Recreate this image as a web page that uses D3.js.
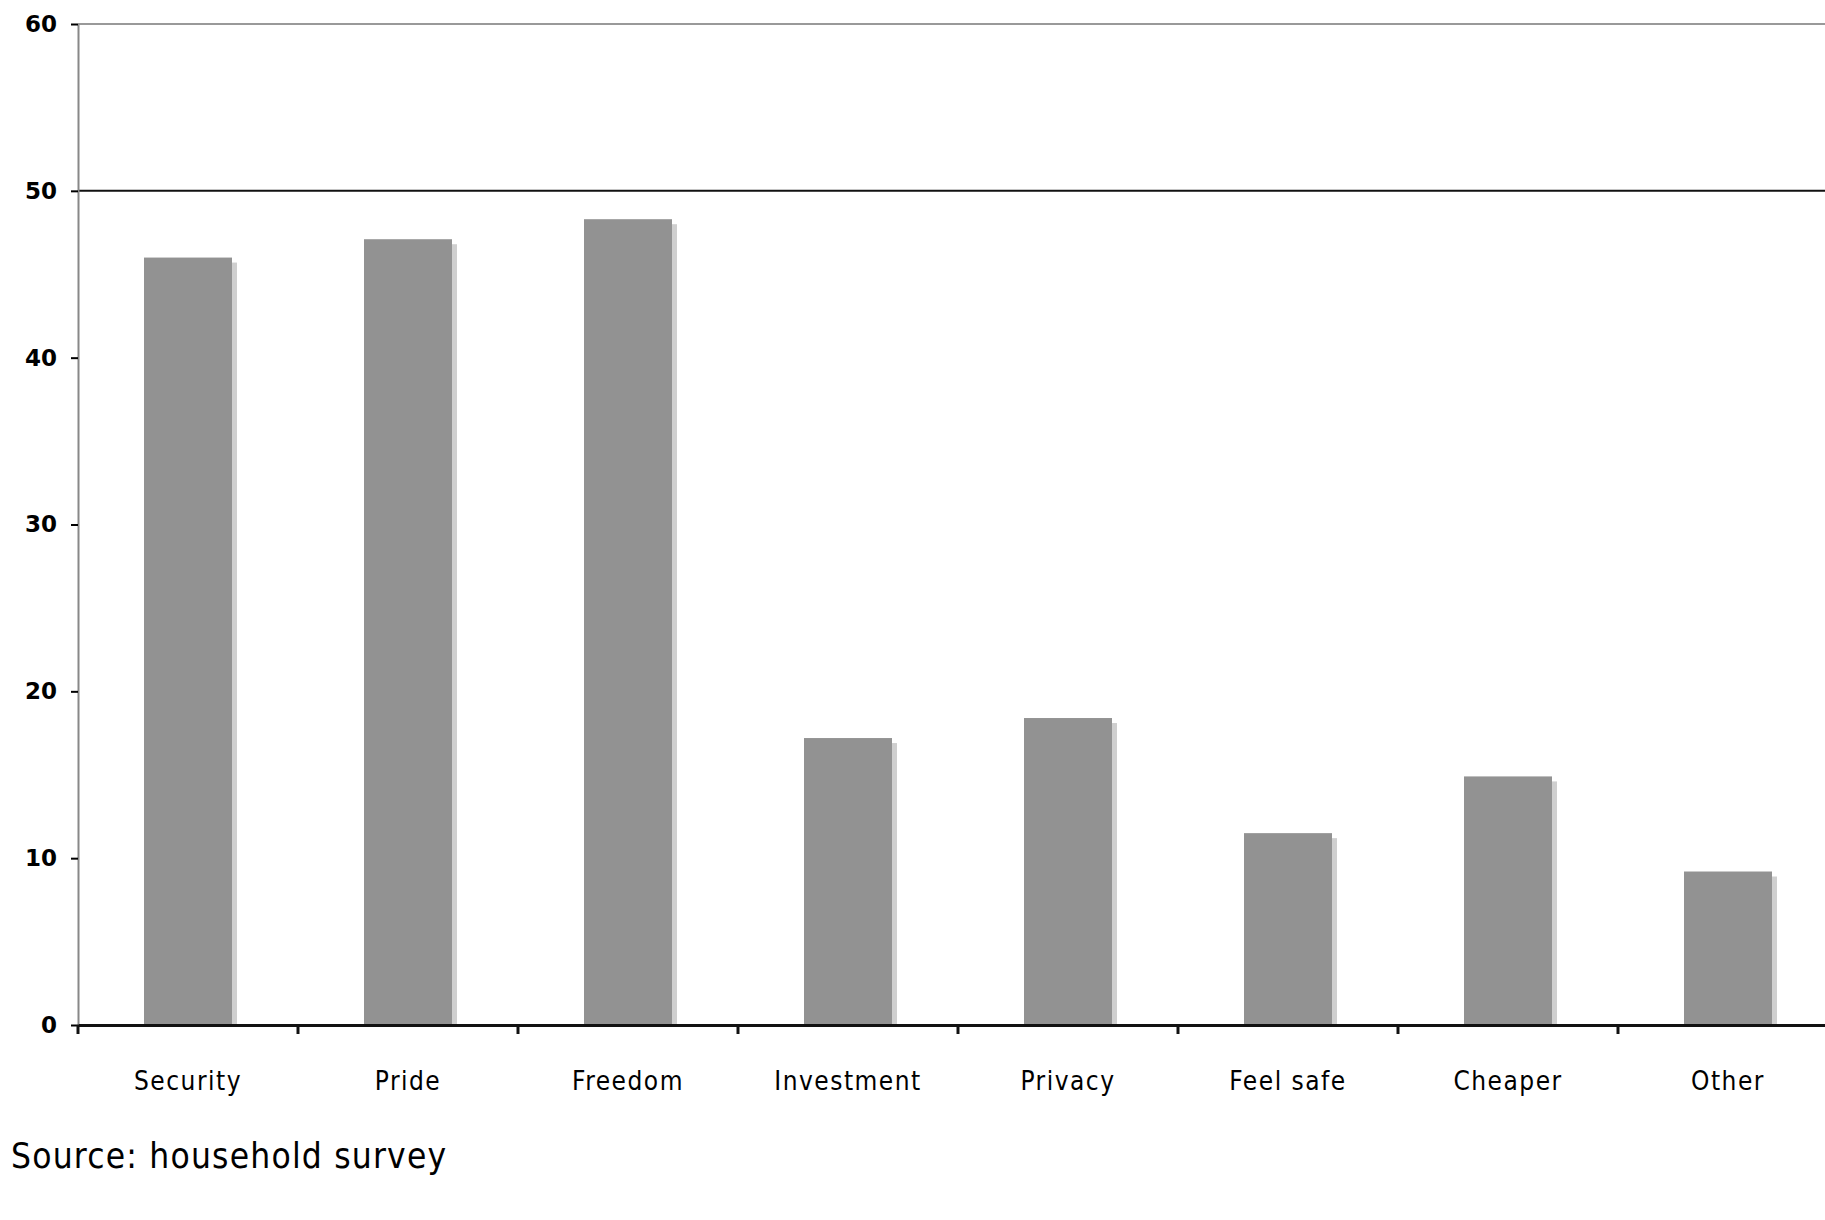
<!DOCTYPE html>
<html lang="en">
  <head>
    <meta charset="UTF-8" />
    <script src="https://d3js.org/d3.v7.min.js"></script>
    <title>Reasons for home ownership</title>
    <style type="text/css">
      body {
        margin: 0;
        background: #fff;
      }
      .y-axis text {
        font-family: 'DejaVu Sans', sans-serif;
        font-weight: bold;
        font-size: 23px;
        fill: #000;
      }
      .x-axis text {
        font-family: 'DejaVu Sans', sans-serif;
        font-stretch: condensed;
        font-size: 26px;
        letter-spacing: 1.5px;
        fill: #000;
      }
      .source {
        font-family: 'DejaVu Sans', sans-serif;
        font-stretch: condensed;
        font-size: 35px;
        letter-spacing: 1.2px;
        fill: #000;
      }
    </style>
  </head>
  <body>
    <svg width="1825" height="1220"></svg>
  </body>
  <script type="text/javascript">
    const categories = ['Security', 'Pride', 'Freedom', 'Investment', 'Privacy', 'Feel safe', 'Cheaper', 'Other'];
    const values = [46, 47.1, 48.3, 17.2, 18.4, 11.5, 14.9, 9.2];
    const yTicks = [0, 10, 20, 30, 40, 50, 60];
    const sourceText = 'Source: household survey';

    const margin = { top: 24, left: 78, bottom: 195 };
    const bandW = 220;
    const width = bandW * categories.length;
    const height = 1220 - margin.top - margin.bottom;

    const svg = d3.select('svg');
    const g = svg.append('g').attr('transform', `translate(${margin.left}, ${margin.top})`);

    const xScale = d3.scaleBand().domain(categories).range([0, width]).paddingInner(0.6).paddingOuter(0.3);
    // band ticks sit on the category boundaries
    const xEdge = d3.scaleBand().domain(categories).range([0, width]);
    const yScale = d3.scaleLinear().domain([0, 60]).range([height, 0]);

    // plot border top (gray) and gridline at 50
    g.append('line')
      .attr('x1', 0)
      .attr('x2', width)
      .attr('y1', yScale(60))
      .attr('y2', yScale(60))
      .attr('stroke', '#999')
      .attr('stroke-width', 2);
    g.append('line')
      .attr('x1', 0)
      .attr('x2', width)
      .attr('y1', yScale(50))
      .attr('y2', yScale(50))
      .attr('stroke', '#111')
      .attr('stroke-width', 2);

    // bar shadows
    g.selectAll('rect.shadow')
      .data(values)
      .enter()
      .append('rect')
      .attr('class', 'shadow')
      .attr('x', (d, i) => xScale(categories[i]) + 5)
      .attr('y', (d) => yScale(d) + 5)
      .attr('width', xScale.bandwidth())
      .attr('height', (d) => height - yScale(d) - 5)
      .attr('fill', '#cfcfcf');

    // bars
    g.selectAll('rect.bar')
      .data(values)
      .enter()
      .append('rect')
      .attr('class', 'bar')
      .attr('x', (d, i) => xScale(categories[i]))
      .attr('y', (d) => yScale(d))
      .attr('width', xScale.bandwidth())
      .attr('height', (d) => height - yScale(d))
      .attr('fill', '#929292');

    // y axis
    const yAxis = g
      .append('g')
      .attr('class', 'y-axis')
      .call(d3.axisLeft(yScale).tickValues(yTicks).tickSize(7).tickPadding(14).tickSizeOuter(0));
    yAxis.select('.domain').attr('stroke', '#888').attr('stroke-width', 2);
    yAxis.selectAll('.tick line').attr('stroke', '#000').attr('stroke-width', 2);

    // x axis
    const xAxis = g
      .append('g')
      .attr('class', 'x-axis')
      .attr('transform', `translate(0, ${height})`)
      .call(d3.axisBottom(xScale).tickSize(0).tickPadding(56));
    xAxis.select('.domain').attr('stroke', '#111').attr('stroke-width', 3);
    xAxis.selectAll('text').attr('dy', '0.35em');

    // boundary ticks
    xAxis
      .selectAll('line.edge')
      .data(categories)
      .enter()
      .append('line')
      .attr('class', 'edge')
      .attr('x1', (d) => xEdge(d))
      .attr('x2', (d) => xEdge(d))
      .attr('y1', 0)
      .attr('y2', 9)
      .attr('stroke', '#111')
      .attr('stroke-width', 3);

    // source note
    svg.append('text').attr('class', 'source').attr('x', 11).attr('y', 1168).text(sourceText);
  </script>
</html>
